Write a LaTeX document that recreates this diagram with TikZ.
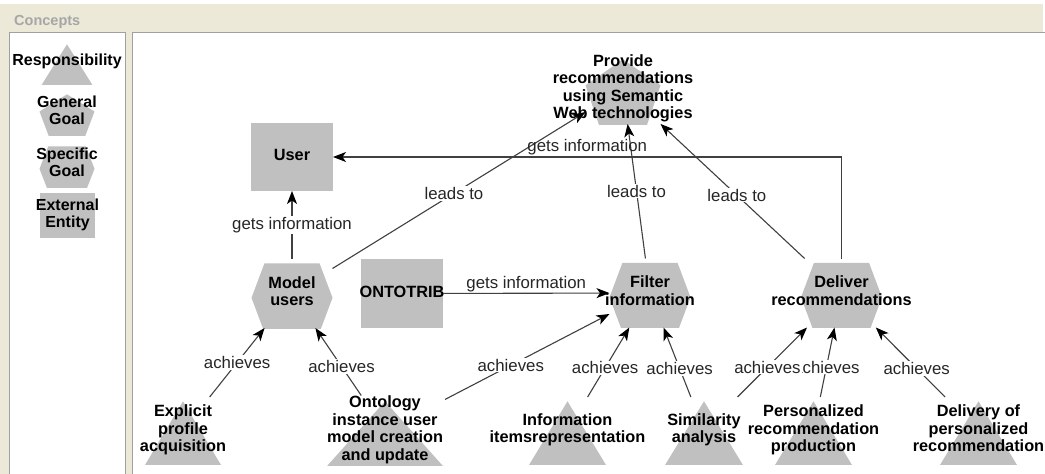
\documentclass[tikz,border=0pt]{standalone}
\usepackage{fontspec}
\setmainfont{Liberation Sans}
\usetikzlibrary{arrows.meta}

\definecolor{panelbg}{HTML}{ECE9D8}
\definecolor{frame}{HTML}{A0A0A0}
\definecolor{shapegrey}{HTML}{C0C0C0}
\definecolor{edgegrey}{HTML}{404040}
\definecolor{captiongrey}{HTML}{A6A6A6}

% concept text: bold, centred lines that may overhang the shape
\newcommand\conceptfont{\fontsize{16.3}{17.5}\selectfont\bfseries}
\newcommand\legendfont{\fontsize{16}{16}\selectfont\bfseries}
\newcommand\labelfont{\fontsize{16.8}{18}\selectfont}
\newcommand\lines[1]{\makebox[0pt]{\begin{tabular}{@{}c@{}}#1\end{tabular}}}

\tikzset{
  shapebase/.style={inner sep=0pt, outer sep=0pt, font=\conceptfont, text=black},
  hexnode/.style 2 args={shapebase, minimum width=#1, minimum height=#2,
    path picture={\fill[shapegrey, shift={(path picture bounding box.center)}]
      (-#1/2,0) -- (-#1/2+0.16*#1,-#2/2) -- (#1/2-0.16*#1,-#2/2) -- (#1/2,0)
      -- (#1/2-0.16*#1,#2/2) -- (-#1/2+0.16*#1,#2/2) -- cycle;}},
  pentnode/.style 2 args={shapebase, minimum width=#1, minimum height=#2,
    path picture={\fill[shapegrey, shift={(path picture bounding box.center)}]
      (0,-#2/2) -- (#1/2,-#2/2+0.382*#2) -- (0.309*#1,#2/2)
      -- (-0.309*#1,#2/2) -- (-#1/2,-#2/2+0.382*#2) -- cycle;}},
  trinode/.style 2 args={shapebase, minimum width=#1, minimum height=#2,
    path picture={\fill[shapegrey, shift={(path picture bounding box.center)}]
      (0,-#2/2) -- (#1/2,#2/2) -- (-#1/2,#2/2) -- cycle;}},
  boxnode/.style 2 args={shapebase, fill=shapegrey, minimum width=#1, minimum height=#2},
  legend/.style={font=\legendfont},
  arr/.style={draw=edgegrey, line width=1.1pt,
    -{Stealth[length=13pt, width=10pt, inset=3.5pt, color=black]}},
  lbl/.style={font=\labelfont, fill=white, inner sep=1pt, text=black!85},
  caption/.style={font=\fontsize{14.5}{16}\selectfont\bfseries, text=captiongrey,
    anchor=west, inner sep=0pt},
}

\begin{document}
\begin{tikzpicture}[x=1pt, y=-1pt]
  \useasboundingbox (0,0) rectangle (1045,474);

  % window background and the two panels
  \fill[white] (0,0) rectangle (1045,474);
  \fill[panelbg] (0,4) rectangle (1043,474);
  \node[caption] (cap) at (14,22) {Concepts};
  \filldraw[fill=white, draw=frame] (9.5,32.5) rectangle (125.5,480);
  \filldraw[fill=white, draw=frame, line width=1.3pt] (132.5,32.5) rectangle (1060,480);

  % legend of concept kinds
  \node[trinode={55}{44}, legend] (resp) at (67,62) {\lines{Responsibility}};
  \node[pentnode={55}{45}, legend] (gg) at (67,112.5) {\lines{General\\Goal}};
  \node[hexnode={55}{45}, legend] (sg) at (67,164.5) {\lines{Specific\\Goal}};
  \node[boxnode={55}{45}, legend] (ee) at (67.5,215.5) {\lines{External\\Entity}};

  % goals and entities
  \node[pentnode={75}{68}] (pr) at (623,89)
    {\lines{Provide\\recommendations\\using Semantic\\Web technologies}};
  \node[boxnode={82}{68}] (user) at (292,157) {\lines{User}};
  \node[hexnode={81}{69}] (mu) at (292,293.5) {\lines{Model\\users}};
  \node[boxnode={82}{69}] (ot) at (402,293.5) {\lines{ONTOTRIB}};
  \node[hexnode={81}{69}] (fi) at (650,293) {\lines{Filter\\information}};
  \node[hexnode={81}{69}] (dr) at (841.5,293) {\lines{Deliver\\recommendations}};

  % responsibilities
  \node[trinode={80}{67}] (ex) at (183,430.5) {\lines{Explicit\\profile\\acquisition}};
  \node[trinode={120}{67}] (on) at (385,430.5)
    {\lines{Ontology\\instance user\\model creation\\and update}};
  \node[trinode={81}{67}] (in) at (567.5,430.5) {\lines{Information\\itemsrepresentation}};
  \node[trinode={82}{67}] (si) at (704,430.5) {\lines{Similarity\\analysis}};
  \node[trinode={81}{67}] (pe) at (813.5,430.5)
    {\lines{Personalized\\recommendation\\production}};
  \node[trinode={81}{67}] (de) at (978.5,430.5)
    {\lines{Delivery of\\personalized\\recommendation}};

  % relations
  \draw[arr] (mu) -- node[lbl] {gets information} (user);
  \draw[arr] (mu) -- node[lbl, pos=0.48] {leads to} (pr);
  \draw[arr] (fi) -- node[lbl] {leads to} (pr);
  \draw[arr] (dr) -- node[lbl, pos=0.47] {leads to} (pr);
  \draw[arr] (dr) |- node[lbl, fill=none, pos=0.75, above] {gets information} (user);
  \draw[arr] (ot) -- node[lbl, fill=none, above] {gets information} (fi);
  \draw[arr] (ex) -- node[lbl] {achieves} (mu);
  \draw[arr] (on) -- node[lbl, pos=0.43] {achieves} (mu);
  \draw[arr] (on) -- node[lbl, pos=0.4] {achieves} (fi);
  \draw[arr] (in) -- node[lbl, pos=0.42] {achieves} (fi);
  \draw[arr] (si) -- node[lbl, pos=0.41] {achieves} (fi);
  \draw[arr] (pe) -- node[lbl, pos=0.43] {achieves} (dr);
  \draw[arr] (si) -- node[lbl, pos=0.43] {achieves} (dr);
  \draw[arr] (de) -- node[lbl, pos=0.41] {achieves} (dr);
\end{tikzpicture}
\end{document}
